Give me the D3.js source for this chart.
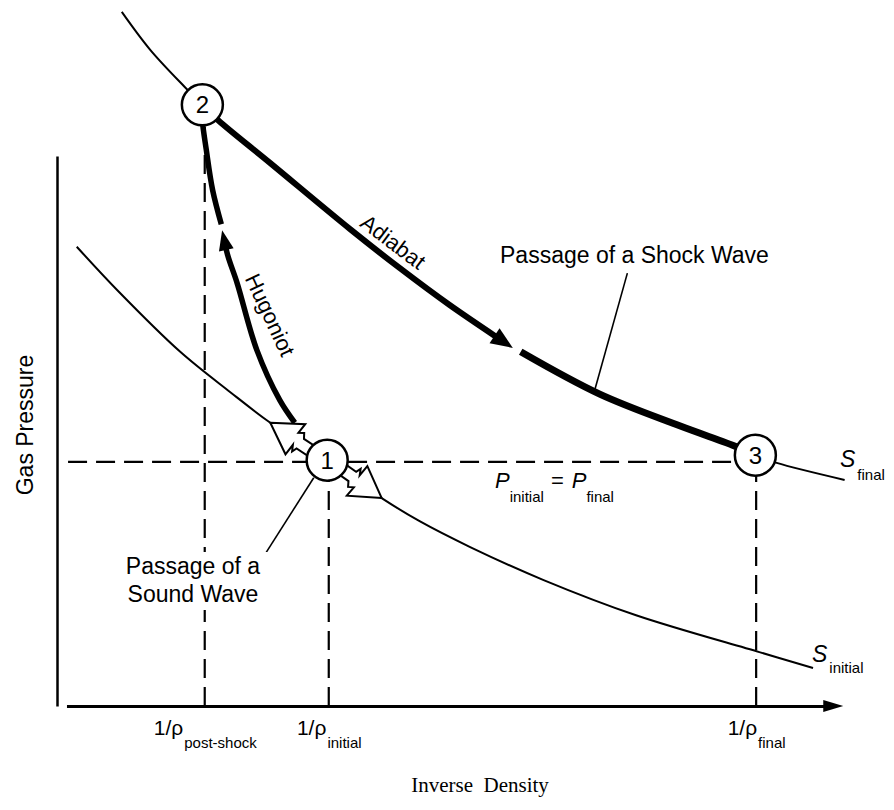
<!DOCTYPE html>
<html><head><meta charset="utf-8">
<script src="https://cdn.jsdelivr.net/npm/d3@7"></script>
<style>
body{margin:0;background:#fff;}
svg{display:block;}
text{font-family:"Liberation Sans", Arial, Helvetica, sans-serif;fill:#000;}
</style></head><body>
<svg id="c" width="894" height="810"></svg>
<script>
// ---------- data (inverse density v, pressure p; arbitrary units) ----------
const sInitial = [[0.25,8.35],[0.77,7.55],[1.56,6.44],[2.19,5.71],[2.70,5.15],[3.42,4.47],[4.11,3.78],[4.59,3.36],[5.23,2.89],[6.16,2.29],[7.33,1.65],[8.89,0.98],[9.57,0.69]];
const sFinalUpper = [[0.82,12.62],[1.18,11.93],[1.62,11.25],[1.84,10.93]];
const sFinalLower = [[8.84,4.56],[9.11,4.42],[9.97,4.11]];
const adiabatA = [[1.84,10.93],[2.04,10.65],[2.70,9.87],[3.71,8.67],[4.34,7.96],[4.97,7.29],[5.77,6.51]];
const adiabatB = [[5.87,6.44],[6.87,5.67],[7.89,5.09],[8.61,4.71],[8.84,4.56]];
const hugoniotLower = [[3.01,5.15],[2.82,5.56],[2.53,6.47],[2.28,7.69],[2.16,8.20],[2.09,8.65]];
const hugoniotUpper = [[2.08,8.76],[1.97,9.38],[1.89,10.11],[1.84,10.65],[1.84,10.93]];
const states = [{id:"1", v:3.42, p:4.47},{id:"2", v:1.84, p:10.93},{id:"3", v:8.84, p:4.56}];
const pEqual = 4.44;
const tickMain = "1/\u03C1";
const xTicks = [{v:1.87, sub:"post-shock", p:10.93},{v:3.44, sub:"initial", p:4.47},{v:8.85, sub:"final", p:4.56}];
const soundTips = [[2.70,5.15],[4.11,3.78]];
const shockPointer = [[7.22,7.87],[6.80,5.71]];
const soundPointer = [[3.25,4.15],[2.62,2.73]];

// ---------- scales ----------
const x = d3.scaleLinear().domain([0,10]).range([57,847]);
const y = d3.scaleLinear().domain([0,10]).range([706,156]);
const svg = d3.select("#c");
const line = d3.line().x(d=>x(d[0])).y(d=>y(d[1])).curve(d3.curveCatmullRom.alpha(0.5));
const straight = d3.line().x(d=>x(d[0])).y(d=>y(d[1]));

// ---------- dashed guide lines ----------
const dash = svg.append("g").attr("stroke","#000").attr("stroke-width",2.2).attr("fill","none").attr("stroke-dasharray","19,9");
dash.append("path").attr("d", straight([[0.14,pEqual],[8.84,pEqual]]));
xTicks.forEach(t=>{
  dash.append("path").attr("d", straight([[t.v,0],[t.v,t.p]]));
});

// ---------- curves ----------
const thin = svg.append("g").attr("stroke","#000").attr("fill","none").attr("stroke-width",2);
thin.append("path").attr("d", line(sInitial));
thin.append("path").attr("d", line(sFinalUpper));
thin.append("path").attr("d", line(sFinalLower));

function arrowEnd(path, len, halfW){
  const node = path.node();
  const L = node.getTotalLength();
  const tip = node.getPointAtLength(L);
  const base = node.getPointAtLength(L-len);
  const dx = tip.x-base.x, dy = tip.y-base.y, n = Math.hypot(dx,dy);
  const px = -dy/n, py = dx/n;
  svg.append("polygon")
    .attr("points", [[tip.x,tip.y],[base.x+px*halfW,base.y+py*halfW],[base.x-px*halfW,base.y-py*halfW]].map(p=>p.join(",")).join(" "))
    .attr("fill","#000");
  path.attr("stroke-dasharray", `${L-len+3} ${L+20}`);
}
const thick = svg.append("g").attr("stroke","#000").attr("fill","none");
const hl = thick.append("path").attr("d", line(hugoniotLower)).attr("stroke-width",5.5);
arrowEnd(hl, 20, 7.5);
thick.append("path").attr("d", line(hugoniotUpper)).attr("stroke-width",5.5);
const aa = thick.append("path").attr("d", line(adiabatA)).attr("stroke-width",6);
arrowEnd(aa, 22, 9);
thick.append("path").attr("d", line(adiabatB)).attr("stroke-width",7);

// pointers
thin.append("path").attr("d", straight(shockPointer)).attr("stroke-width",1.6);
thin.append("path").attr("d", straight(soundPointer)).attr("stroke-width",1.6);

// ---------- axes ----------
const yAxis = svg.append("g").attr("transform",`translate(${x(0)},0)`)
  .call(d3.axisLeft(y).tickValues([]).tickSizeOuter(0));
yAxis.select(".domain").attr("stroke","#000").attr("stroke-width",2.5);

const xa = x.copy().domain([0.12, 9.75]).range([x(0.12), x(9.75)]);
const xAxis = svg.append("g").attr("transform",`translate(0,${y(0)})`)
  .call(d3.axisBottom(xa).tickValues(xTicks.map(t=>t.v)).tickSize(0).tickSizeOuter(0).tickFormat(""));
xAxis.select(".domain").attr("stroke","#000").attr("stroke-width",3);
xAxis.selectAll(".tick").each(function(d,i){
  const t = d3.select(this).append("text").attr("y",29).attr("text-anchor","middle")
    .attr("font-size",21).attr("fill","#000");
  t.append("tspan").text(tickMain);
  t.append("tspan").attr("font-size",15).attr("dy",13).attr("dx",1).text(xTicks[i].sub);
});
const xe = x(9.75), y0 = y(0);
svg.append("polygon").attr("points", `${xe-4},${y0-6} ${xe+16},${y0} ${xe-4},${y0+6}`).attr("fill","#000");

svg.append("text").attr("transform",`translate(33,425) rotate(-90)`).attr("text-anchor","middle")
  .attr("font-size",23).text("Gas Pressure");
svg.append("text").attr("x",480).attr("y",792).attr("text-anchor","middle")
  .attr("font-size",21).attr("style","font-family:'Liberation Serif','Times New Roman',serif;white-space:pre")
  .text("Inverse\u00A0\u00A0Density");

// ---------- annotations ----------
svg.append("text").attr("x",500).attr("y",263).attr("font-size",23).text("Passage of a Shock Wave");
svg.append("text").attr("transform","translate(393,242) rotate(37)").attr("text-anchor","middle")
  .attr("dominant-baseline","central").attr("font-size",22).text("Adiabat");
svg.append("text").attr("transform","translate(270,315) rotate(65)").attr("text-anchor","middle")
  .attr("dominant-baseline","central").attr("font-size",22).text("Hugoniot");

svg.append("rect").attr("x",118).attr("y",552).attr("width",150).attr("height",58).attr("fill","#fff");
const sw = svg.append("text").attr("text-anchor","middle").attr("font-size",23);
sw.append("tspan").attr("x",193).attr("y",574).text("Passage of a");
sw.append("tspan").attr("x",193).attr("y",602).text("Sound Wave");

const pl = svg.append("text").attr("x",495).attr("y",488);
pl.append("tspan").attr("font-style","italic").attr("font-size",22).text("P");
pl.append("tspan").attr("font-size",15).attr("dy",14).text("initial");
pl.append("tspan").attr("font-size",22).attr("dy",-14).attr("dx",7).text("=");
pl.append("tspan").attr("font-style","italic").attr("font-size",22).attr("dx",8).text("P");
pl.append("tspan").attr("font-size",15).attr("dy",14).text("final");

const sf = svg.append("text").attr("x",840).attr("y",467);
sf.append("tspan").attr("font-style","italic").attr("font-size",23).text("S");
sf.append("tspan").attr("font-size",15).attr("dy",13).attr("dx",2).text("final");
const si = svg.append("text").attr("x",812).attr("y",662);
si.append("tspan").attr("font-style","italic").attr("font-size",23).text("S");
si.append("tspan").attr("font-size",15).attr("dy",11).attr("dx",2).text("initial");

// ---------- sound-wave arrows ----------
const s1 = states[0];
const cx = x(s1.v), cy = y(s1.p);
soundTips.forEach(tp=>{
  const tx = x(tp[0]), ty = y(tp[1]);
  const D = Math.hypot(tx-cx, ty-cy);
  const ux = (tx-cx)/D, uy = (ty-cy)/D, px = -uy, py = ux;
  const local = [[D,0],[D-30,18],[D-29,7],[D-34,10],[D-37,5],[15,5],[15,-7],[D-36,-7],[D-34,-12],[D-31,-6],[D-30,-18]];
  svg.append("polygon")
    .attr("points", local.map(([d,w])=>[cx+ux*d+px*w, cy+uy*d+py*w].join(",")).join(" "))
    .attr("fill","#fff").attr("stroke","#000").attr("stroke-width",2).attr("stroke-linejoin","miter");
});

// ---------- state circles ----------
const sg = svg.append("g").selectAll("g").data(states).join("g")
  .attr("transform", d=>`translate(${x(d.v)},${y(d.p)})`);
sg.append("circle").attr("r",20.5).attr("fill","#fff").attr("stroke","#000").attr("stroke-width",2.5);
sg.append("text").attr("text-anchor","middle").attr("dy","0.36em").attr("font-size",24).text(d=>d.id);
</script>
</body></html>
